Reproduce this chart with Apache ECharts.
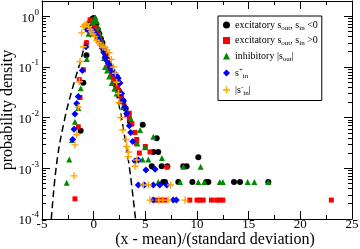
<!DOCTYPE html>
<html><head><meta charset="utf-8">
<script src="https://cdn.jsdelivr.net/npm/echarts@6/dist/echarts.min.js"></script>
<style>html,body{margin:0;padding:0;background:#fff}#c{width:360px;height:249px}</style>
</head><body><div id="c"></div>
<script>
// ---- data ----
const xTickValues = [-5, 0, 5, 10, 15, 20, 25];
const yMajorTicks = [1e-4, 1e-3, 1e-2, 1e-1, 1];
const yMinorTicks = [2e-4,3e-4,4e-4,5e-4,6e-4,7e-4,8e-4,9e-4,
  2e-3,3e-3,4e-3,5e-3,6e-3,7e-3,8e-3,9e-3,
  2e-2,3e-2,4e-2,5e-2,6e-2,7e-2,8e-2,9e-2,
  0.2,0.3,0.4,0.5,0.6,0.7,0.8,0.9];

const gaussX = [-4.1,-3.55,-2.8,-2.1,-1.32,-0.65,-0.1,0.5,1.1,1.7,2.35,3.0,3.5,4.05];
const gaussY = [1e-4,0.0014,0.0095,0.035,0.12,0.33,0.41,0.36,0.16,0.065,0.022,0.0042,0.0009,1e-4];

const excNeg = [[-1.26,0.0055],[-1.0,0.049],[-0.7,0.17],[-0.6,0.55],[-0.45,0.7],[-0.3,0.8],[-0.15,0.88],[0.0,0.92],[0.1,0.85],[0.25,0.7],[0.4,0.55],[0.55,0.45],[0.7,0.36],[0.85,0.3],[1.0,0.23],[1.15,0.18],[1.3,0.14],[1.45,0.115],[1.6,0.1],[1.8,0.075],[2.06,0.048],[2.2,0.042],[2.38,0.035],[2.6,0.027],[2.87,0.021],[3.1,0.015],[3.52,0.0083],[4.75,0.0072],[6.1,0.0039],[5.77,0.0021],[6.25,0.0021],[5.62,0.0011],[6.58,0.0011],[7.13,0.0011],[8.67,0.0011],[9.0,0.0011],[10.13,0.00165],[6.74,0.00054],[6.9,0.00054],[8.19,0.00054],[9.55,0.00054],[10.9,0.00054],[11.1,0.00054],[13.58,0.00054],[14.16,0.00054],[16.9,0.00054]];

const excPos = [[-1.81,0.00025],[-1.49,0.0066],[-1.32,0.025],[-1.39,0.056],[-1.0,0.088],[-0.7,0.3],[-0.55,0.55],[-0.35,0.85],[-0.2,0.72],[-0.05,0.68],[0.1,0.6],[0.25,0.52],[0.45,0.43],[0.6,0.36],[0.75,0.3],[0.9,0.24],[1.05,0.19],[1.2,0.15],[1.42,0.11],[1.58,0.09],[1.75,0.075],[1.9,0.06],[2.1,0.05],[2.3,0.04],[2.48,0.033],[2.7,0.024],[2.95,0.017],[3.2,0.0113],[3.45,0.0122],[3.45,0.0098],[3.7,0.0075],[4.0,0.0051],[4.16,0.0037],[4.16,0.0031],[4.42,0.002],[5.0,0.0027],[5.45,0.0021],[7.1,0.00105],[6.0,0.000236],[6.5,0.000236],[6.9,0.000236],[9.3,0.000236],[10.0,0.000236],[10.3,0.000236],[10.6,0.000236],[11.4,0.000236],[11.9,0.000236],[12.2,0.000236],[12.5,0.000236],[23.0,0.000236]];

const inhOut = [[-2.61,0.00052],[-2.36,0.0015],[-2.1,0.0036],[-1.81,0.0083],[-1.49,0.0155],[-1.25,0.038],[-0.67,0.143],[-0.5,0.45],[-0.3,0.62],[-0.15,0.75],[0.0,0.85],[0.15,0.95],[0.3,0.8],[0.45,0.6],[0.6,0.45],[0.75,0.32],[0.9,0.22],[1.0,0.15],[1.1,0.1],[1.3,0.085],[1.5,0.065],[1.74,0.048],[2.0,0.037],[2.23,0.03],[2.55,0.021],[2.85,0.016],[3.2,0.013],[3.6,0.0095],[4.49,0.0057],[4.22,0.0031],[4.97,0.0026],[5.77,0.0042],[4.74,0.0015],[5.29,0.0015],[6.6,0.0016],[8.67,0.00107],[10.35,0.00107],[6.25,0.00054],[8.37,0.00054],[10.13,0.00054],[10.71,0.00054],[12.2,0.00054],[12.5,0.00054],[14.9,0.00054],[15.55,0.00054],[16.9,0.00054]];

const sInPlus = [[-2.03,0.0037],[-1.9,0.0059],[-1.81,0.0118],[-1.64,0.019],[-1.49,0.026],[-1.1,0.085],[-0.75,0.25],[-0.52,0.54],[-0.35,0.58],[-0.2,0.55],[-0.05,0.52],[0.1,0.47],[0.25,0.42],[0.4,0.37],[0.55,0.32],[0.7,0.27],[0.85,0.23],[1.0,0.19],[1.1,0.156],[1.25,0.135],[1.42,0.119],[1.6,0.1],[1.75,0.088],[1.9,0.078],[2.06,0.073],[2.22,0.066],[2.38,0.06],[2.55,0.048],[2.71,0.03],[2.87,0.022],[3.03,0.016],[3.2,0.012],[3.45,0.0069],[3.58,0.0051],[3.78,0.0034],[4.0,0.0014],[4.32,0.00146],[5.06,0.00093],[5.94,0.00096],[4.32,0.00047],[4.9,0.00047],[5.77,0.00047],[6.4,0.00047],[7.07,0.00047],[5.77,0.000236],[7.7,0.000236],[8.0,0.000236]];

const sInMinus = [[-1.9,0.00071],[-1.81,0.0029],[-1.64,0.0046],[-1.49,0.016],[-1.39,0.051],[-1.32,0.128],[-1.0,0.25],[-1.16,0.47],[-1.0,0.63],[-0.85,0.68],[-0.67,0.71],[-0.5,0.62],[-0.35,0.55],[-0.2,0.5],[-0.05,0.45],[0.1,0.4],[0.3,0.33],[0.5,0.3],[0.7,0.27],[0.9,0.25],[1.1,0.24],[1.3,0.22],[1.5,0.19],[1.7,0.14],[1.9,0.1],[2.1,0.075],[2.23,0.05],[2.4,0.03],[2.45,0.02],[2.6,0.01],[2.81,0.0057],[3.13,0.0037],[3.2,0.0027],[3.35,0.0021],[3.35,0.0017],[4.16,0.00146],[4.0,0.0011],[4.8,0.00047],[5.3,0.00047],[7.45,0.00047],[5.45,0.000236],[6.3,0.000236],[6.7,0.000236],[7.2,0.000236],[8.84,0.000236]];

const seriesNames = ['excNeg','excPos','inh','sinPlus','sinMinus'];
const legendLabels = {
  excNeg: '{n|excitatory s}{sub|out}{n|, s}{sub|in}{n| <0}',
  excPos: '{n|excitatory s}{sub|out}{n|, s}{sub|in}{n| >0}',
  inh: '{n|inhibitory |s}{sub|out}{n||}',
  sinPlus: '{n|s}{sup|+}{sub|in}',
  sinMinus: '{n||s}{sup|-}{sub|in}{n||}'
};

// ---- chart ----
const FF = 'Liberation Serif';
const chart = echarts.init(document.getElementById('c'), null, {renderer: 'canvas'});
const gaussData = gaussX.map((x, i) => [x, gaussY[i]]);
const plusPath = 'path://M4,0H6V4H10V6H6V10H4V6H0V4H4Z';
const noSplit = {show: false};

const xCommon = {type: 'value', min: -5, max: 25, interval: 5, splitLine: noSplit,
  axisLine: {show: true, onZero: false, lineStyle: {color: '#000', width: 1}},
  axisTick: {show: true, inside: true, length: 8, lineStyle: {color: '#000'}},
  minorTick: {show: true, splitNumber: 2, length: 4, lineStyle: {color: '#000'}}};

const logMin = Math.log10(1e-4), logMax = Math.log10(2);

function yMajor(pos, showLabel) {
  return {type: 'log', logBase: 10, min: 1e-4, max: 2, position: pos, splitLine: noSplit,
    axisLine: {show: true, onZero: false, lineStyle: {color: '#000', width: 1}},
    axisTick: {show: true, inside: true, length: 8, lineStyle: {color: '#000'}},
    axisLabel: showLabel ? {show: true, margin: 3, color: '#000',
      formatter: function (v) {
        const l = Math.log10(v); const e = Math.round(l);
        if (Math.abs(l - e) > 1e-6) return '';
        return '{b|10}{s|' + e + '}';
      },
      rich: {b: {fontFamily: FF, fontSize: 13, color: '#000', lineHeight: 17, verticalAlign: 'bottom'},
             s: {fontFamily: FF, fontSize: 9, color: '#000', lineHeight: 9, verticalAlign: 'top'}}} : {show: false}
  };
}
function yMinor(pos) {
  return {type: 'value', min: logMin, max: logMax, position: pos, splitLine: noSplit,
    axisLine: {show: false, onZero: false},
    axisTick: {show: true, inside: true, length: 4, lineStyle: {color: '#000'},
      customValues: yMinorTicks.map(v => Math.log10(v))},
    axisLabel: {show: false}};
}

const y0 = yMajor('left', true);
y0.name = 'probability density';
y0.nameLocation = 'middle';
y0.nameGap = 26;
y0.nameMoveOverlap = false;
y0.nameTextStyle = {fontFamily: FF, fontSize: 16, color: '#000'};

const option = {
  animation: false,
  backgroundColor: '#fff',
  grid: {left: 42, right: 8, top: 1, bottom: 30, containLabel: false, outerBoundsMode: 'none'},
  xAxis: [
    Object.assign({}, xCommon, {position: 'bottom',
      axisLabel: {show: true, color: '#000', fontFamily: FF, fontSize: 13, lineHeight: 11, margin: 0},
      name: '(x - mean)/(standard deviation)', nameLocation: 'middle', nameGap: 13, nameMoveOverlap: false,
      nameTextStyle: {fontFamily: FF, fontSize: 16, color: '#000', padding: [0, 0, 0, 36]}}),
    Object.assign({}, xCommon, {position: 'top', axisLabel: {show: false}})
  ],
  yAxis: [y0, yMinor('left'), yMajor('right', false), yMinor('right')],
  legend: {
    left: 218, top: 16, orient: 'vertical',
    backgroundColor: '#fff', borderColor: '#000', borderWidth: 1, borderRadius: 0,
    padding: [4, 4, 4, 5], itemGap: 4, itemWidth: 7, itemHeight: 7,
    data: seriesNames,
    formatter: name => legendLabels[name],
    textStyle: {fontFamily: FF, fontSize: 10, color: '#000',
      rich: {
        n: {fontFamily: FF, fontSize: 10, color: '#000', lineHeight: 13},
        sub: {fontFamily: FF, fontSize: 7, color: '#000', lineHeight: 7, verticalAlign: 'bottom'},
        sup: {fontFamily: FF, fontSize: 7, color: '#000', lineHeight: 7, verticalAlign: 'top'}
      }}
  },
  series: [
    {name: 'gauss', type: 'line', data: gaussData, smooth: 0.4, showSymbol: false, symbol: 'none',
      lineStyle: {color: '#000', width: 1.5, type: [7, 4]}, silent: true, z: 1, clip: true},
    {name: 'excNeg', type: 'scatter', data: excNeg, symbol: 'circle', symbolSize: 6,
      itemStyle: {color: '#000', opacity: 1}, z: 2},
    {name: 'excPos', type: 'scatter', data: excPos, symbol: 'rect', symbolSize: 5,
      itemStyle: {color: '#ff0000', opacity: 1}, z: 3},
    {name: 'inh', type: 'scatter', data: inhOut, symbol: 'triangle', symbolSize: 6,
      itemStyle: {color: '#008a00', opacity: 1}, z: 4},
    {name: 'sinPlus', type: 'scatter', data: sInPlus, symbol: 'diamond', symbolSize: 7,
      itemStyle: {color: '#0000ff', opacity: 1}, z: 5},
    {name: 'sinMinus', type: 'scatter', data: sInMinus, symbol: plusPath, symbolSize: 7,
      itemStyle: {color: '#ffa500', opacity: 1}, z: 6}
  ]
};
chart.setOption(option);
</script></body></html>
